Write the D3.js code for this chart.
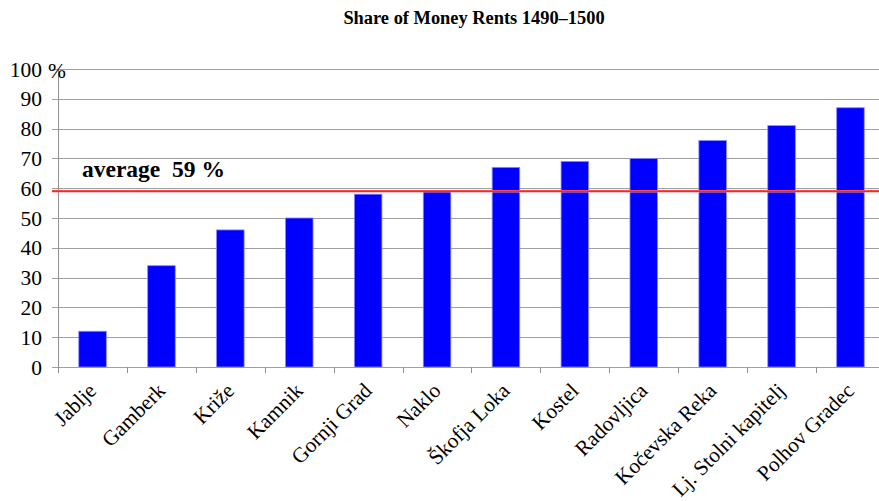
<!DOCTYPE html>
<html><head><meta charset="utf-8">
<script src="https://cdn.jsdelivr.net/npm/d3@7"></script>
<style>body{margin:0;background:#fff;} svg{display:block;}</style>
</head><body>
<svg id="c" width="879" height="501"></svg>
<script>
const categories = ["Jablje","Gamberk","Križe","Kamnik","Gornji Grad","Naklo","Škofja Loka","Kostel","Radovljica","Kočevska Reka","Lj. Stolni kapitelj","Polhov Gradec"];
const values = [12,34,46,50,58,59,67,69,70,76,81,87];
const yTicks = [0,10,20,30,40,50,60,70,80,90,100];
const averageValue = 59;
const title = "Share of Money Rents 1490–1500";
const averageLabel = "average  59 %";

const svg = d3.select("#c");
const font = "'Liberation Serif','Times New Roman',serif";
const x = d3.scaleBand().domain(categories).range([58.1, 884.9]).paddingInner(0.6).paddingOuter(0.3);
const y = d3.scaleLinear().domain([0,100]).range([367,69]);
const step = x.step(), bw = x.bandwidth();

// gridlines
svg.append("g").selectAll("line").data(yTicks).join("line")
  .attr("x1",52).attr("x2",879)
  .attr("y1",d=>Math.round(y(d))+0.5).attr("y2",d=>Math.round(y(d))+0.5)
  .attr("stroke","#a0a0a0").attr("stroke-width",1);

// y axis line
svg.append("line").attr("x1",58.5).attr("x2",58.5).attr("y1",y(100)).attr("y2",y(0))
  .attr("stroke","#909090").attr("stroke-width",1);

// y tick labels
svg.append("g").selectAll("text").data(yTicks).join("text")
  .attr("x",42).attr("y",d=>y(d)).attr("dy","0.35em")
  .attr("text-anchor","end").attr("font-family",font).attr("font-size",21.5)
  .text(d=>d);
svg.append("text").attr("x",48).attr("y",78).attr("font-family",font).attr("font-size",21.5).text("%");

// category boundary ticks
const bounds = categories.map(c=>x(c)-(step-bw)/2);
svg.append("g").selectAll("line").data(bounds).join("line")
  .attr("x1",d=>Math.round(d)+0.5).attr("x2",d=>Math.round(d)+0.5)
  .attr("y1",y(0)).attr("y2",y(0)+6).attr("stroke","#909090");

// bars
svg.append("g").selectAll("rect").data(values).join("rect")
  .attr("x",(d,i)=>x(categories[i])).attr("width",bw)
  .attr("y",d=>y(d)).attr("height",d=>y(0)-y(d))
  .attr("fill","#0000ff").attr("stroke","#8c8cff").attr("stroke-width",0.8);

// average line
svg.append("line").attr("x1",52).attr("x2",879).attr("y1",y(averageValue)).attr("y2",y(averageValue))
  .attr("stroke","#ff9090").attr("stroke-width",2.6);
svg.append("line").attr("x1",52).attr("x2",879).attr("y1",y(averageValue)).attr("y2",y(averageValue))
  .attr("stroke","#ff0000").attr("stroke-width",1.2);

svg.append("text").attr("x",82).attr("y",177).attr("font-family",font).attr("font-size",23.5)
  .attr("font-weight","bold").attr("xml:space","preserve").style("white-space","pre").text(averageLabel);

// x labels
svg.append("g").selectAll("text").data(categories).join("text")
  .attr("transform",c=>`translate(${x(c)+bw/2+5},392) rotate(-45)`)
  .attr("text-anchor","end").attr("font-family",font).attr("font-size",21.3).text(c=>c);

// title
svg.append("text").attr("x",474).attr("y",24).attr("text-anchor","middle")
  .attr("font-family",font).attr("font-size",18.4).attr("font-weight","bold").text(title);
</script>
</body></html>
